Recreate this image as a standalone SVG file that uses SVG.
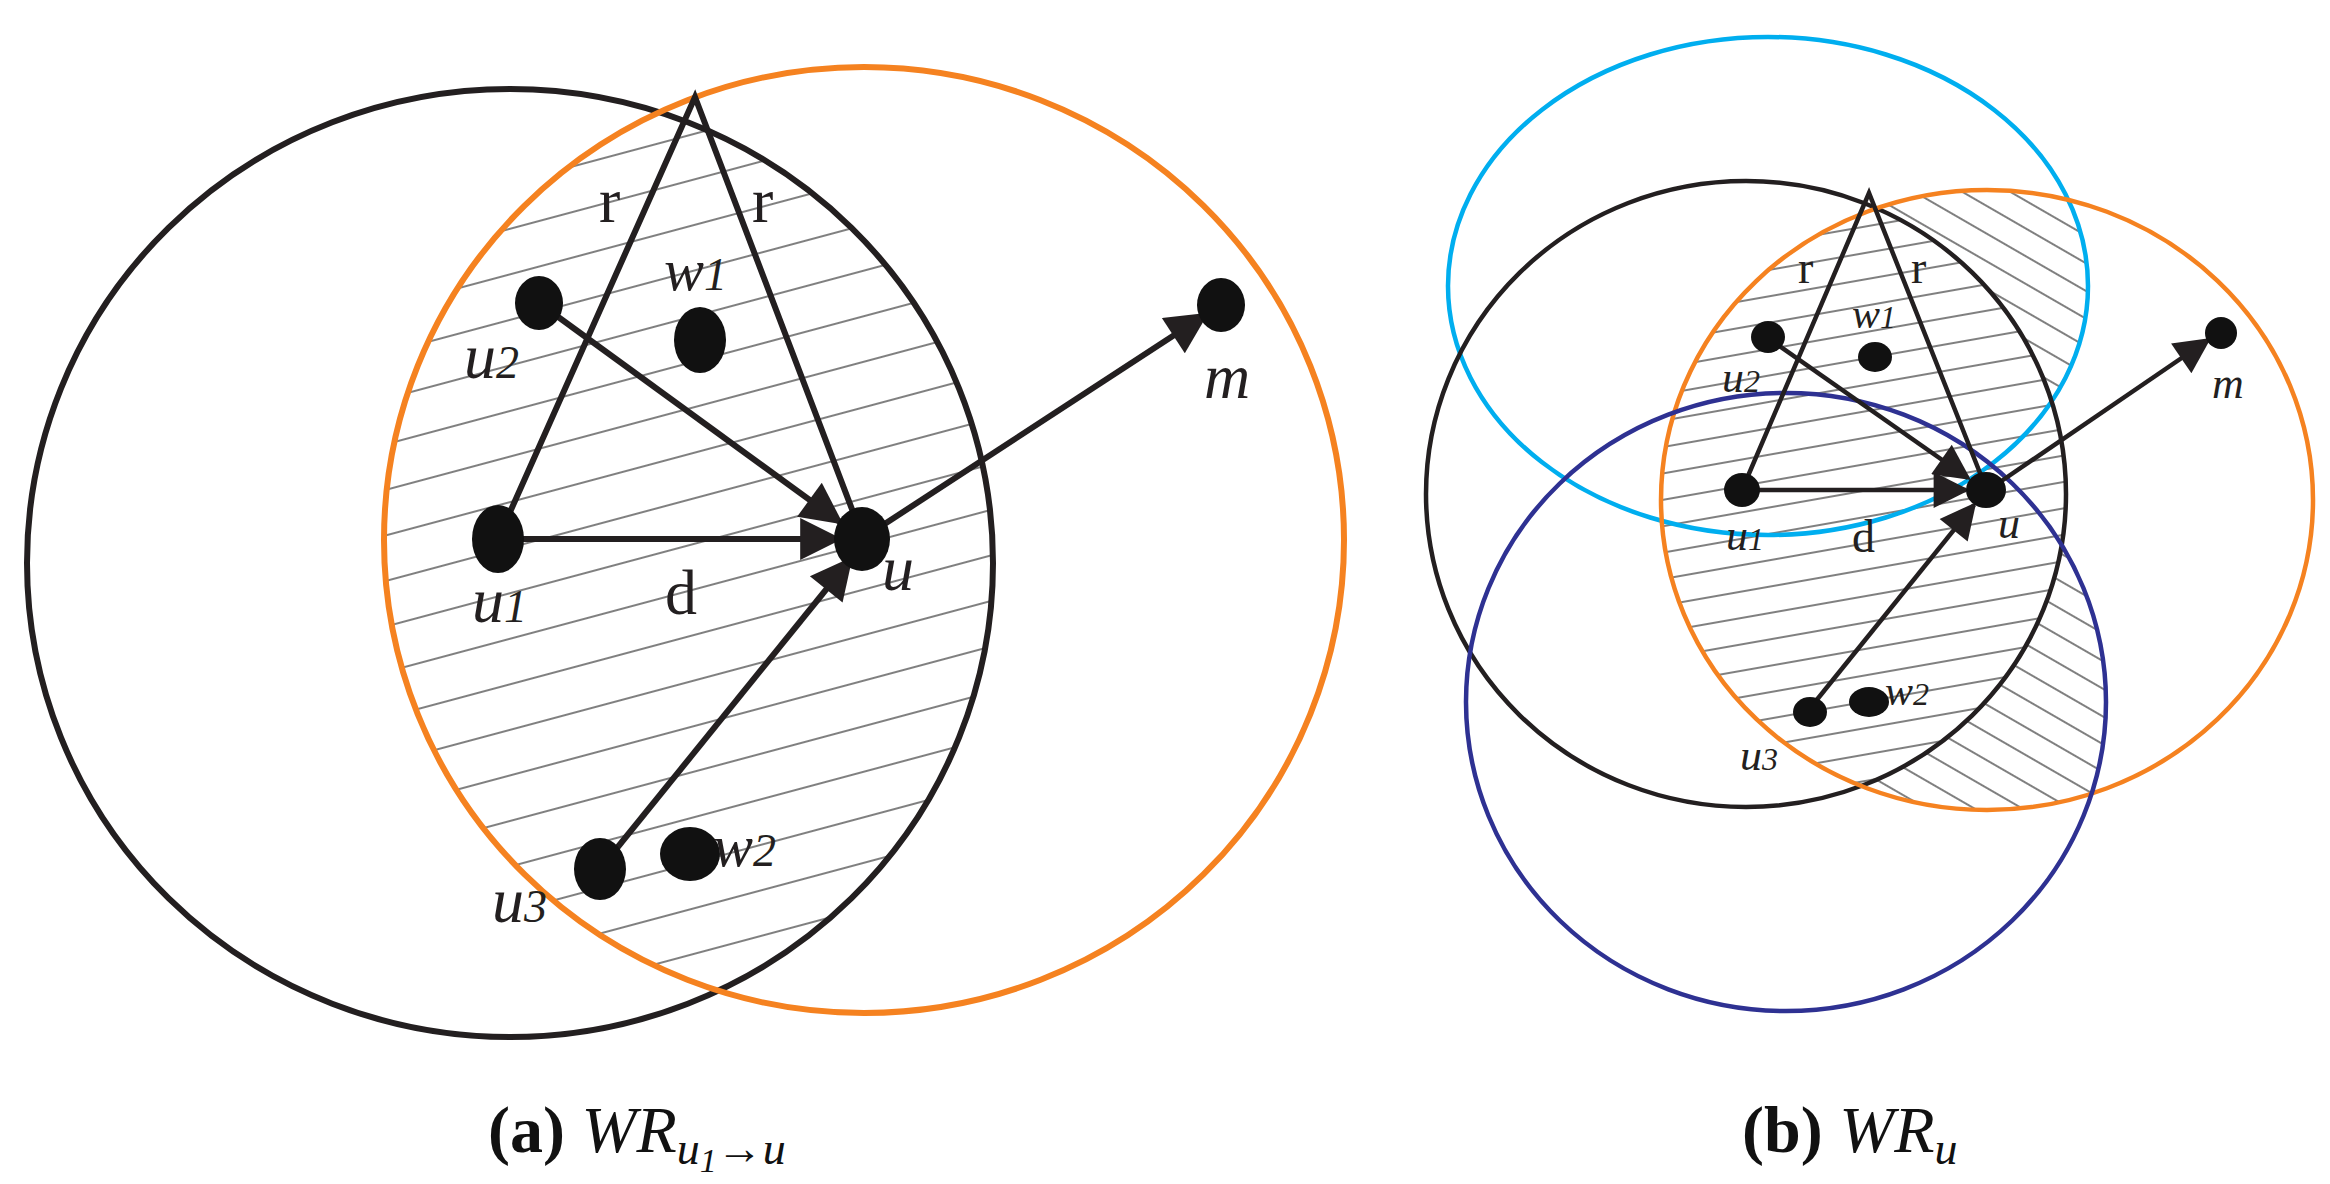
<svg xmlns="http://www.w3.org/2000/svg" width="2330" height="1184" viewBox="0 0 2330 1184">
<style>
.bk{fill:none;stroke:#231f20;stroke-width:6}
.bk2{fill:none;stroke:#231f20;stroke-width:4.5}
.or{fill:none;stroke:#f58220;stroke-width:6}
.or2{fill:none;stroke:#f58220;stroke-width:4.5}
.cy{fill:none;stroke:#00aeef;stroke-width:4.5}
.nv{fill:none;stroke:#2e3192;stroke-width:4.5}
.ln{stroke:#231f20;stroke-width:6;fill:none}
.ln2{stroke:#231f20;stroke-width:4.5;fill:none}
.dot{fill:#111}
.it{font-family:"Liberation Serif",serif;font-style:italic;fill:#231f20}
.rm{font-family:"Liberation Serif",serif;fill:#231f20}
.cap{font-family:"Liberation Serif",serif;font-size:66px;fill:#111}
</style>
<defs>
<marker id="ah" viewBox="0 0 10 10" refX="9" refY="5" markerWidth="9" markerHeight="7" orient="auto" markerUnits="strokeWidth"><path d="M0,0 L10,5 L0,10 z" fill="#231f20"/></marker>
<marker id="ah2" viewBox="0 0 10 10" refX="9" refY="5" markerWidth="10" markerHeight="8" orient="auto" markerUnits="strokeWidth"><path d="M0,0 L10,5 L0,10 z" fill="#231f20"/></marker>
<pattern id="hA" patternUnits="userSpaceOnUse" width="200" height="44" patternTransform="rotate(-15)"><line x1="0" y1="1" x2="200" y2="1" stroke="#555" stroke-width="1.3"/></pattern>
<pattern id="hB" patternUnits="userSpaceOnUse" width="200" height="26" patternTransform="rotate(-10)"><line x1="0" y1="1" x2="200" y2="1" stroke="#555" stroke-width="1.3"/></pattern>
<pattern id="hC" patternUnits="userSpaceOnUse" width="200" height="24" patternTransform="rotate(30)"><line x1="0" y1="1" x2="200" y2="1" stroke="#555" stroke-width="1.3"/></pattern>
<clipPath id="cAb"><ellipse cx="510" cy="563" rx="483" ry="474"/></clipPath>
<clipPath id="cAo"><ellipse cx="864" cy="540" rx="480" ry="473"/></clipPath>
<clipPath id="cBk"><ellipse cx="1746" cy="494" rx="320" ry="313"/></clipPath>
<clipPath id="cBo"><ellipse cx="1987" cy="500" rx="326" ry="310"/></clipPath>
<clipPath id="cBc"><ellipse cx="1768" cy="286" rx="320" ry="249"/></clipPath>
<clipPath id="cBn"><ellipse cx="1786" cy="702" rx="320" ry="309"/></clipPath>
</defs>
<rect width="2330" height="1184" fill="#fff"/>
<g id="hatching">
<g clip-path="url(#cAb)"><rect x="0" y="0" width="1400" height="1100" fill="url(#hA)" clip-path="url(#cAo)"/></g>
<g clip-path="url(#cBo)"><rect x="1400" y="0" width="930" height="1100" fill="url(#hC)" clip-path="url(#cBc)"/></g>
<g clip-path="url(#cBo)"><rect x="1400" y="0" width="930" height="1100" fill="url(#hC)" clip-path="url(#cBn)"/></g>
<g clip-path="url(#cBo)"><g clip-path="url(#cBk)"><rect x="1400" y="0" width="930" height="1100" fill="#fff"/><rect x="1400" y="0" width="930" height="1100" fill="url(#hB)"/></g></g>
</g>
<g id="circles">
<ellipse id="a-black" class="bk" cx="510" cy="563" rx="483" ry="474"/>
<ellipse id="a-orange" class="or" cx="864" cy="540" rx="480" ry="473"/>
<ellipse id="b-cyan" class="cy" cx="1768" cy="286" rx="320" ry="249"/>
<ellipse id="b-black" class="bk2" cx="1746" cy="494" rx="320" ry="313"/>
<ellipse id="b-orange" class="or2" cx="1987" cy="500" rx="326" ry="310"/>
<ellipse id="b-navy" class="nv" cx="1786" cy="702" rx="320" ry="309"/>
</g>
<g id="connectors">
<polyline class="ln" points="498,539 695,97 858,525"/>
<line class="ln" x1="539" y1="303" x2="840" y2="522" marker-end="url(#ah)"/>
<line class="ln" x1="498" y1="539" x2="838" y2="539" marker-end="url(#ah)"/>
<line class="ln" x1="600" y1="869" x2="850" y2="560" marker-end="url(#ah)"/>
<line class="ln" x1="880" y1="527" x2="1205" y2="315" marker-end="url(#ah)"/>
<polyline class="ln2" points="1742,490 1869,193 1982,478"/>
<line class="ln2" x1="1765" y1="336" x2="1968" y2="478" marker-end="url(#ah2)"/>
<line class="ln2" x1="1742" y1="490" x2="1966" y2="490" marker-end="url(#ah2)"/>
<line class="ln2" x1="1807" y1="712" x2="1974" y2="505" marker-end="url(#ah2)"/>
<line class="ln2" x1="2000" y1="482" x2="2208" y2="340" marker-end="url(#ah2)"/>
</g>
<g id="nodes-a">
<g id="a-u1"><ellipse class="dot" cx="498" cy="539" rx="26" ry="34"/><text class="it" x="472" y="622" font-size="64">u<tspan font-size="46">1</tspan></text></g>
<g id="a-u"><ellipse class="dot" cx="862" cy="539" rx="28" ry="32"/><text class="it" x="882" y="590" font-size="64">u</text></g>
<g id="a-u2"><ellipse class="dot" cx="539" cy="303" rx="24" ry="27"/><text class="it" x="464" y="378" font-size="64">u<tspan font-size="46">2</tspan></text></g>
<g id="a-w1"><ellipse class="dot" cx="700" cy="340" rx="26" ry="33"/><text class="it" x="664" y="290" font-size="60">w<tspan font-size="46">1</tspan></text></g>
<g id="a-m"><ellipse class="dot" cx="1221" cy="305" rx="24" ry="27"/><text class="it" x="1204" y="398" font-size="64">m</text></g>
<g id="a-u3"><ellipse class="dot" cx="600" cy="869" rx="26" ry="31"/><text class="it" x="492" y="922" font-size="64">u<tspan font-size="46">3</tspan></text></g>
<g id="a-w2"><ellipse class="dot" cx="690" cy="854" rx="30" ry="27"/><text class="it" x="713" y="866" font-size="60">w<tspan font-size="46">2</tspan></text></g>
<text class="rm" x="599" y="222" font-size="64">r</text>
<text class="rm" x="752" y="222" font-size="64">r</text>
<text class="rm" x="665" y="614" font-size="64">d</text>
<text class="cap" x="488" y="1152"><tspan font-weight="bold">(a)</tspan> <tspan font-style="italic">WR<tspan font-size="46" dy="12">u</tspan><tspan font-size="34" dy="8">1</tspan><tspan font-size="46" dy="-8">→u</tspan></tspan></text>
</g>
<g id="nodes-b">
<g id="b-u1"><ellipse class="dot" cx="1742" cy="490" rx="18" ry="17"/><text class="it" x="1726" y="550" font-size="44">u<tspan font-size="32">1</tspan></text></g>
<g id="b-u"><ellipse class="dot" cx="1986" cy="490" rx="20" ry="18"/><text class="it" x="1998" y="538" font-size="44">u</text></g>
<g id="b-u2"><ellipse class="dot" cx="1768" cy="337" rx="17" ry="16"/><text class="it" x="1722" y="392" font-size="44">u<tspan font-size="32">2</tspan></text></g>
<g id="b-w1"><ellipse class="dot" cx="1875" cy="357" rx="17" ry="15"/><text class="it" x="1852" y="328" font-size="42">w<tspan font-size="32">1</tspan></text></g>
<g id="b-m"><ellipse class="dot" cx="2221" cy="333" rx="16" ry="16"/><text class="it" x="2212" y="398" font-size="44">m</text></g>
<g id="b-u3"><ellipse class="dot" cx="1810" cy="712" rx="17" ry="15"/><text class="it" x="1740" y="770" font-size="44">u<tspan font-size="32">3</tspan></text></g>
<g id="b-w2"><ellipse class="dot" cx="1869" cy="702" rx="20" ry="15"/><text class="it" x="1885" y="705" font-size="42">w<tspan font-size="32">2</tspan></text></g>
<text class="rm" x="1798" y="283" font-size="46">r</text>
<text class="rm" x="1911" y="283" font-size="46">r</text>
<text class="rm" x="1852" y="552" font-size="46">d</text>
<text class="cap" x="1742" y="1152"><tspan font-weight="bold">(b)</tspan> <tspan font-style="italic">WR<tspan font-size="46" dy="12">u</tspan></tspan></text>
</g>
</svg>
